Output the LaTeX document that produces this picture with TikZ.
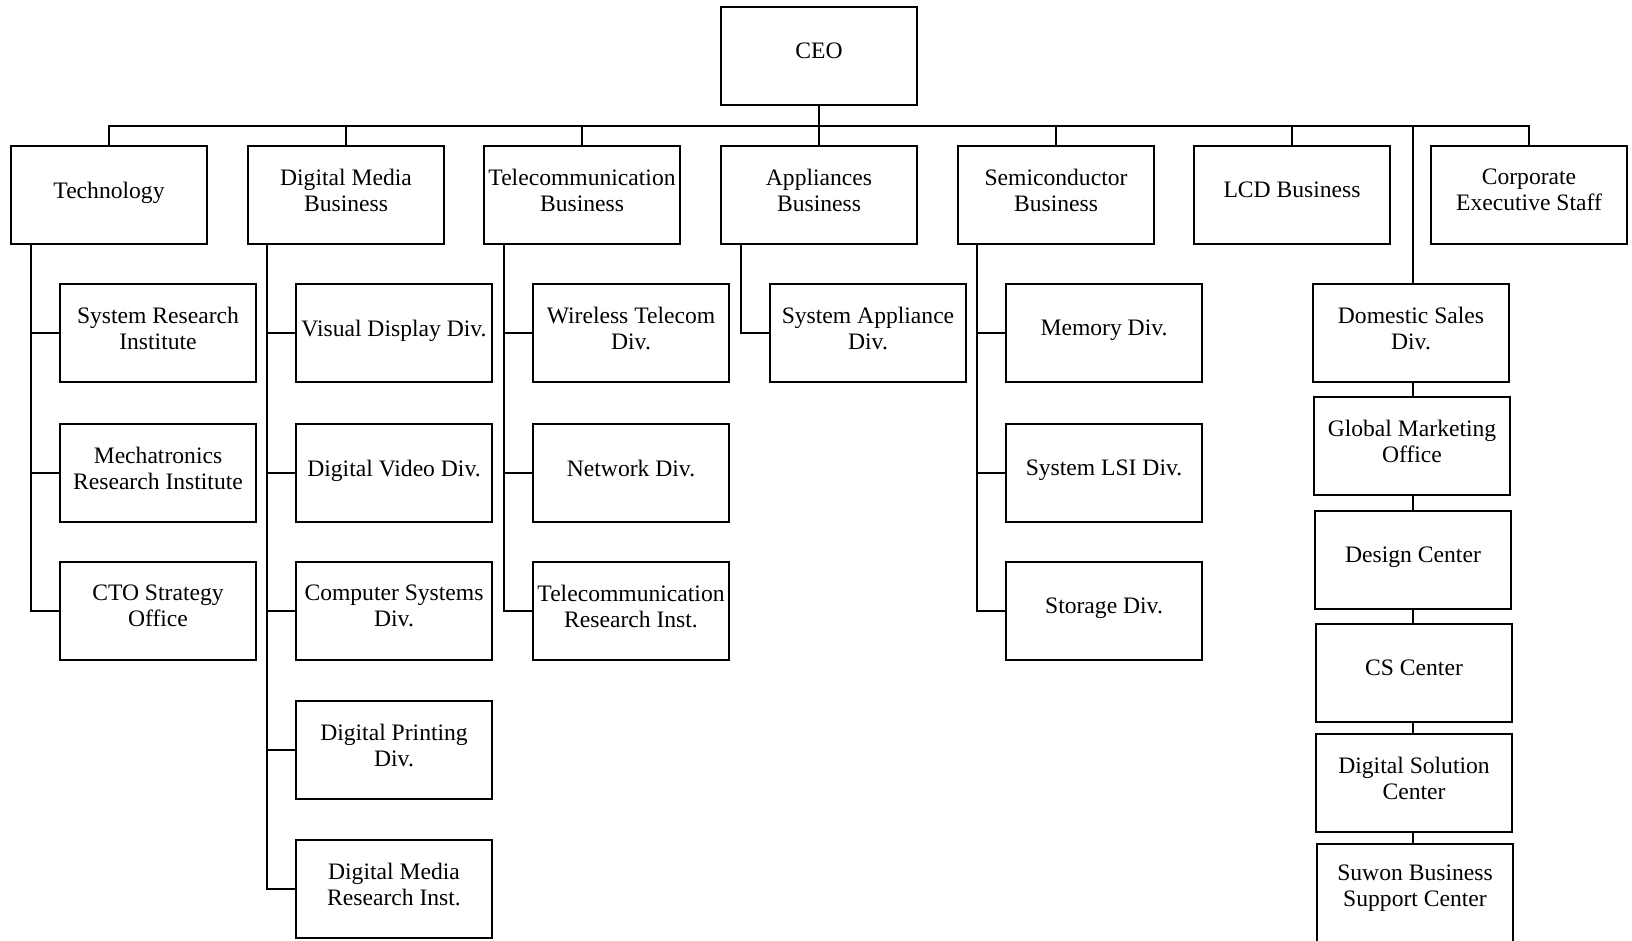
\documentclass[tikz,border=0pt]{standalone}
\usepackage{fontspec}
\setmainfont{Liberation Serif}
\begin{document}
\begin{tikzpicture}[x=1pt,y=-1pt,
  box/.style={draw, line width=2pt, minimum width=196pt, minimum height=98pt, inner sep=0pt},
  lbl/.style={align=center, font=\fontsize{23.6}{26}\selectfont, yshift=5pt, inner sep=0pt},
  lbl1/.style={lbl, text depth=0pt},
  conn/.style={line width=2pt}]
\fill[white] (0,0) rectangle (1632,941);
\clip (0,0) rectangle (1632,941);
\useasboundingbox (0,0) rectangle (1632,941);

% coordinates
\coordinate (bus) at (0,126);
\coordinate (t1) at (31,0);
\coordinate (t2) at (267,0);
\coordinate (t3) at (504,0);
\coordinate (t4) at (741,0);
\coordinate (t5) at (977,0);
\coordinate (vline) at (1413,0);

% CEO
\node[box, label={[lbl1]center:CEO}] (ceo) at (819,56) {};

% Row 1
\node[box, label={[lbl1]center:Technology}] (tech) at (109,195) {};
\node[box, label={[lbl]center:{Digital Media\\Business}}] (dm) at (346,195) {};
\node[box, label={[lbl]center:{Telecommunication\\Business}}] (tel) at (582,195) {};
\node[box, label={[lbl]center:{Appliances\\Business}}] (app) at (819,195) {};
\node[box, label={[lbl]center:{Semiconductor\\Business}}] (semi) at (1056,195) {};
\node[box, label={[lbl1]center:{LCD Business}}] (lcd) at (1292,195) {};
\node[box, label={[lbl]center:{Corporate\\Executive Staff}}] (corp) at (1529,195) {};

% Technology children
\node[box, label={[lbl]center:{System Research\\Institute}}] (tc1) at (158,333) {};
\node[box, label={[lbl]center:{Mechatronics\\Research Institute}}] (tc2) at (158,473) {};
\node[box, label={[lbl]center:{CTO Strategy\\Office}}] (tc3) at (158,611) {};

% Digital Media children
\node[box, label={[lbl1]center:{Visual Display Div.}}] (dc1) at (394,333) {};
\node[box, label={[lbl1]center:{Digital Video Div.}}] (dc2) at (394,473) {};
\node[box, label={[lbl]center:{Computer Systems\\Div.}}] (dc3) at (394,611) {};
\node[box, label={[lbl]center:{Digital Printing\\Div.}}] (dc4) at (394,750) {};
\node[box, label={[lbl]center:{Digital Media\\Research Inst.}}] (dc5) at (394,889) {};

% Telecom children
\node[box, label={[lbl]center:{Wireless Telecom\\Div.}}] (ec1) at (631,333) {};
\node[box, label={[lbl1]center:{Network Div.}}] (ec2) at (631,473) {};
\node[box, label={[lbl]center:{Telecommunication\\Research Inst.}}] (ec3) at (631,611) {};

% Appliances child
\node[box, label={[lbl]center:{System Appliance\\Div.}}] (ac1) at (868,333) {};

% Semiconductor children
\node[box, label={[lbl1]center:{Memory Div.}}] (sc1) at (1104,333) {};
\node[box, label={[lbl1]center:{System LSI Div.}}] (sc2) at (1104,473) {};
\node[box, label={[lbl1]center:{Storage Div.}}] (sc3) at (1104,611) {};

% Right column
\node[box, label={[lbl]center:{Domestic Sales\\Div.}}] (r1) at (1411,333) {};
\node[box, label={[lbl]center:{Global Marketing\\Office}}] (r2) at (1412,446) {};
\node[box, label={[lbl1]center:{Design Center}}] (r3) at (1413,560) {};
\node[box, label={[lbl1]center:{CS Center}}] (r4) at (1414,673) {};
\node[box, label={[lbl]center:{Digital Solution\\Center}}] (r5) at (1414,783) {};
\node[box, minimum height=110pt, label={[lbl,yshift=6pt]center:{Suwon Business\\Support Center}}] (r6) at (1415,899) {};

% Bus
\draw[conn] (ceo.south) -- (ceo.south |- bus);
\draw[conn] (tech.north) -- (tech.north |- bus) -- (corp.north |- bus) -- (corp.north);
\draw[conn] (dm.north) -- (dm.north |- bus);
\draw[conn] (tel.north) -- (tel.north |- bus);
\draw[conn] (app.north) -- (app.north |- bus);
\draw[conn] (semi.north) -- (semi.north |- bus);
\draw[conn] (lcd.north) -- (lcd.north |- bus);
\draw[conn] (r1.north -| vline) -- (vline |- bus);

% Trunks
\foreach \c in {tc1,tc2,tc3} \draw[conn] (tech.south -| t1) |- (\c.west);
\foreach \c in {dc1,dc2,dc3,dc4,dc5} \draw[conn] (dm.south -| t2) |- (\c.west);
\foreach \c in {ec1,ec2,ec3} \draw[conn] (tel.south -| t3) |- (\c.west);
\draw[conn] (app.south -| t4) |- (ac1.west);
\foreach \c in {sc1,sc2,sc3} \draw[conn] (semi.south -| t5) |- (\c.west);

% Right column links
\draw[conn] (r1.south -| vline) -- (r2.north -| vline);
\draw[conn] (r2.south -| vline) -- (r3.north -| vline);
\draw[conn] (r3.south -| vline) -- (r4.north -| vline);
\draw[conn] (r4.south -| vline) -- (r5.north -| vline);
\draw[conn] (r5.south -| vline) -- (r6.north -| vline);
\end{tikzpicture}
\end{document}
